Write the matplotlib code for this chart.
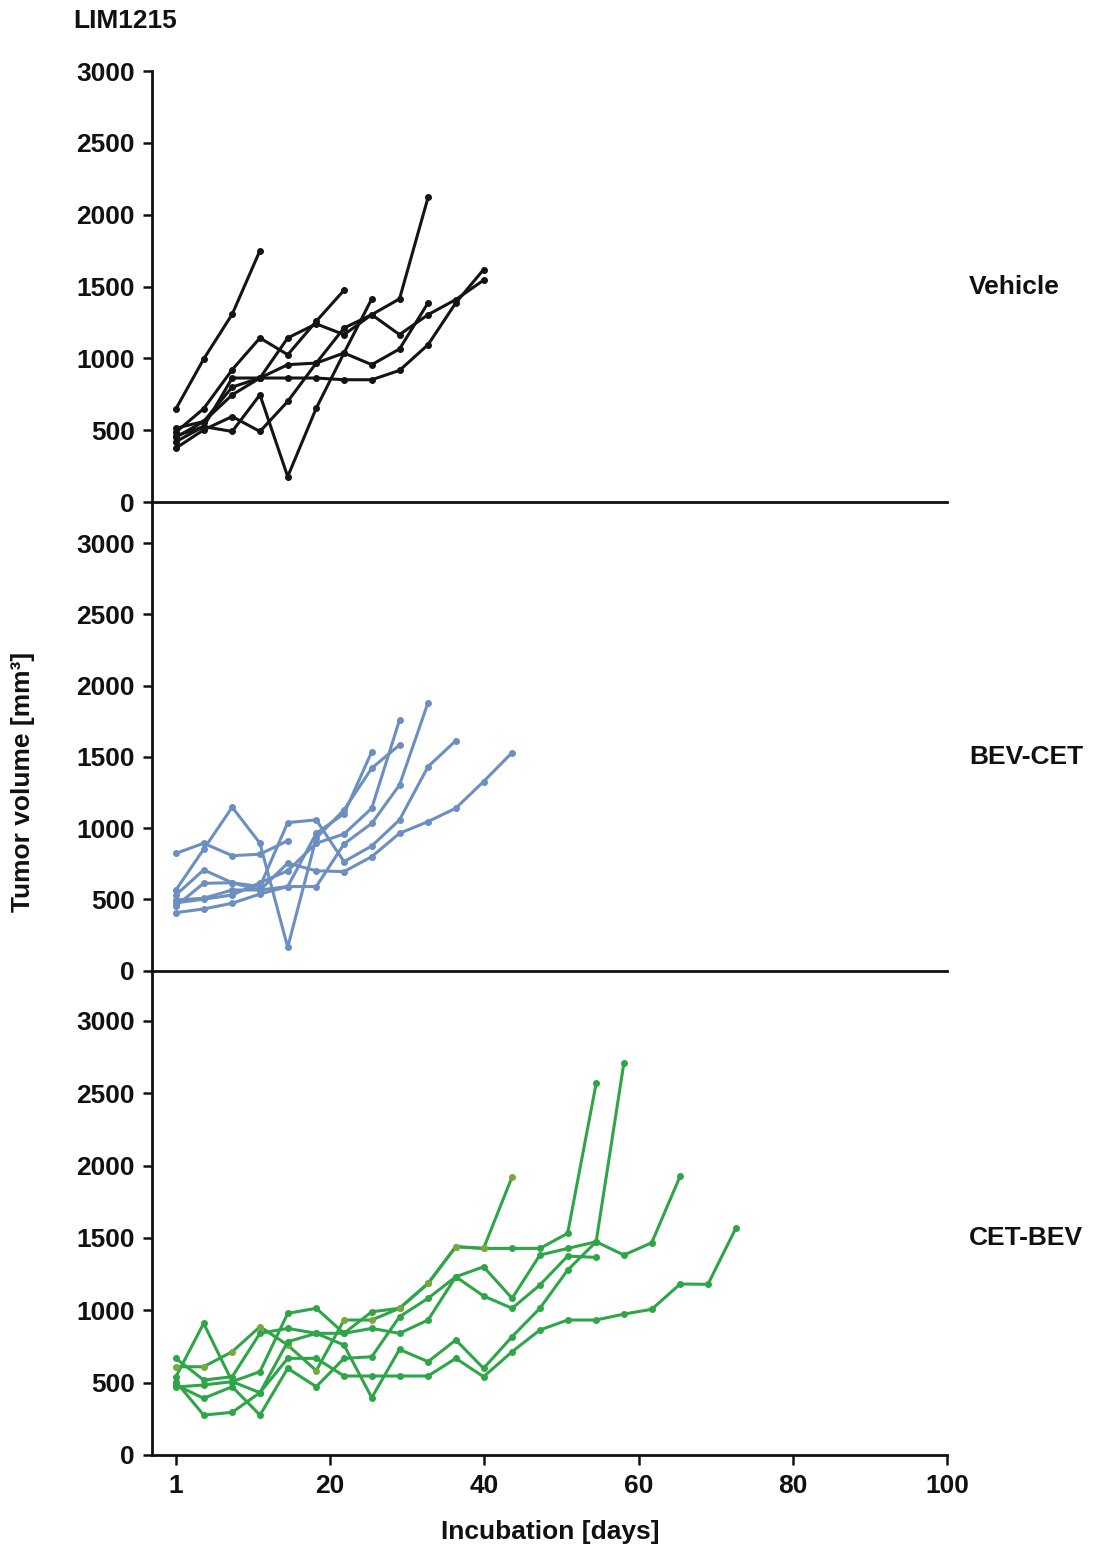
import matplotlib
matplotlib.use("Agg")
import matplotlib.pyplot as plt
import matplotlib.transforms as mtransforms

plt.rcParams['font.family'] = ['Liberation Sans', 'DejaVu Sans']
plt.rcParams['font.weight'] = 'bold'

# measurement days (x position on the plot's day axis)
days = [0, 3.6, 7.3, 10.9, 14.5, 18.2, 21.8, 25.4, 29.0, 32.7, 36.3,
        39.9, 43.6, 47.2, 50.8, 54.5, 58.1, 61.7, 65.4, 69.0, 72.6]

xticks = [0, 20, 40, 60, 80, 100]
xtick_labels = ['1', '20', '40', '60', '80', '100']
yticks = [0, 500, 1000, 1500, 2000, 2500, 3000]

# Vehicle
veh_a = [648, 995, 1307, 1750]
veh_b = [451, 560, 800, 863, 1142, 1240, 1165, 1304, 1414, 2120]
veh_c = [486, 650, 921, 1142, 1025, 1258, 1474]
veh_d = [420, 525, 491, 746, 177, 653, 1037, 1414]
veh_e = [514, 560, 746, 863, 956, 967, 1037, 956, 1065, 1386]
veh_f = [375, 502, 595, 491, 700, 967, 1211, 1304, 1165, 1304, 1409, 1544]
veh_g = [460, 525, 863, 863, 863, 863, 851, 851, 916, 1095, 1386, 1618]

# BEV-CET
bev_1 = [495, 507, 565, 565, 753, 700, 694, 799, 963, 1045, 1139, 1326, 1529]
bev_2 = [453, 612, 616, 589, 1038, 1057, 764, 874, 1057, 1431, 1613]
bev_3 = [406, 432, 472, 537, 589, 589, 888, 1033, 1302, 1880]
bev_4 = [530, 706, 616, 565, 589, 963, 1100, 1536]
bev_5 = [475, 500, 530, 616, 700, 893, 958, 1139, 1758]
bev_6 = [565, 851, 1146, 893, 163, 930, 1127, 1420, 1583]
bev_7 = [822, 893, 806, 816, 911]

# CET-BEV
cet_1 = [541, 910, 507, 576, 979, 1014, 841, 990, 1014, 1186, 1440, 1428,
         1428, 1428, 1532, 2568]
cet_2 = [610, 610, 714, 887, 760, 583, 933, 933, 1014, 1186, 1440, 1428, 1923]
cet_3 = [484, 392, 472, 276, 599, 472, 668, 679, 956, 1083, 1232, 1301,
         1083, 1382, 1428, 1474, 2711]
cet_4 = [668, 518, 541, 841, 875, 841, 760, 396, 730, 645, 795, 599, 818,
         1014, 1278, 1474, 1382, 1467, 1928]
cet_5 = [470, 484, 507, 431, 783, 841, 841, 875, 841, 933, 1232, 1099, 1014,
         1175, 1375, 1366]
cet_6 = [507, 276, 295, 431, 668, 668, 546, 546, 546, 546, 668, 541, 714,
         864, 933, 933, 974, 1007, 1182, 1180, 1566]

groups = [
    ("Vehicle", '#141414', [veh_a, veh_b, veh_c, veh_d, veh_e, veh_f, veh_g], 3000),
    ("BEV-CET", '#6b8fc0', [bev_1, bev_2, bev_3, bev_4, bev_5, bev_6, bev_7], 3288),
    ("CET-BEV", '#2ea648', [cet_1, cet_2, cet_3, cet_4, cet_5, cet_6], 3349),
]

W, H = 1095, 1553
FS = 19
fig = plt.figure(figsize=(W / 100, H / 100), dpi=100)

left, right = 152 / W, 947 / W
bounds = [(71, 502), (502, 970.5), (970.5, 1455)]

for i, ((name, color, series, ytop), (ptop, pbot)) in enumerate(zip(groups, bounds)):
    ax = fig.add_axes([left, 1 - pbot / H, right - left, (pbot - ptop) / H])
    ax.patch.set_visible(False)
    for s in series:
        mfc = color
        if name == "CET-BEV" and s is cet_2:
            mfc = '#7aa83a'
        ax.plot(days[:len(s)], s, color=color, lw=2.2, marker='o', ms=4,
                mfc=mfc, mec=mfc, solid_joinstyle='round', clip_on=False)
    ax.set_xlim(-3.1, 100)
    ax.set_ylim(0, ytop)
    ax.set_yticks(yticks)
    ax.set_yticklabels([str(v) for v in yticks])
    for sp in ['top', 'right']:
        ax.spines[sp].set_visible(False)
    for sp in ['left', 'bottom']:
        ax.spines[sp].set_linewidth(2.0)
        ax.spines[sp].set_color('#111111')
    ax.tick_params(axis='y', direction='out', length=6.5, width=1.8,
                   labelsize=FS, pad=6, colors='#111111')
    if i < 2:
        ax.set_xticks([])
    else:
        ax.set_xticks(xticks)
        ax.set_xticklabels(xtick_labels)
        ax.tick_params(axis='x', direction='out', length=7, width=1.8,
                       labelsize=FS, pad=7, colors='#111111')
    for lab in ax.get_xticklabels() + ax.get_yticklabels():
        lab.set_fontweight('bold')
    trans = mtransforms.blended_transform_factory(ax.transAxes, ax.transData)
    ax.text(1.028, 1500, name, transform=trans, ha='left', va='center',
            fontsize=FS, fontweight='bold', color='#111111')

fig.text(73 / W, 1 - 21 / H, "LIM1215", ha='left', va='center',
         fontsize=FS, fontweight='bold', color='#111111')
fig.text(550 / W, 1 - 1532 / H, "Incubation [days]", ha='center', va='center',
         fontsize=FS, fontweight='bold', color='#111111')
fig.text(23 / W, 1 - 782 / H, "Tumor volume [mm³]", ha='center', va='center',
         rotation=90, fontsize=FS, fontweight='bold', color='#111111')

fig.savefig("out.png", dpi=100)
